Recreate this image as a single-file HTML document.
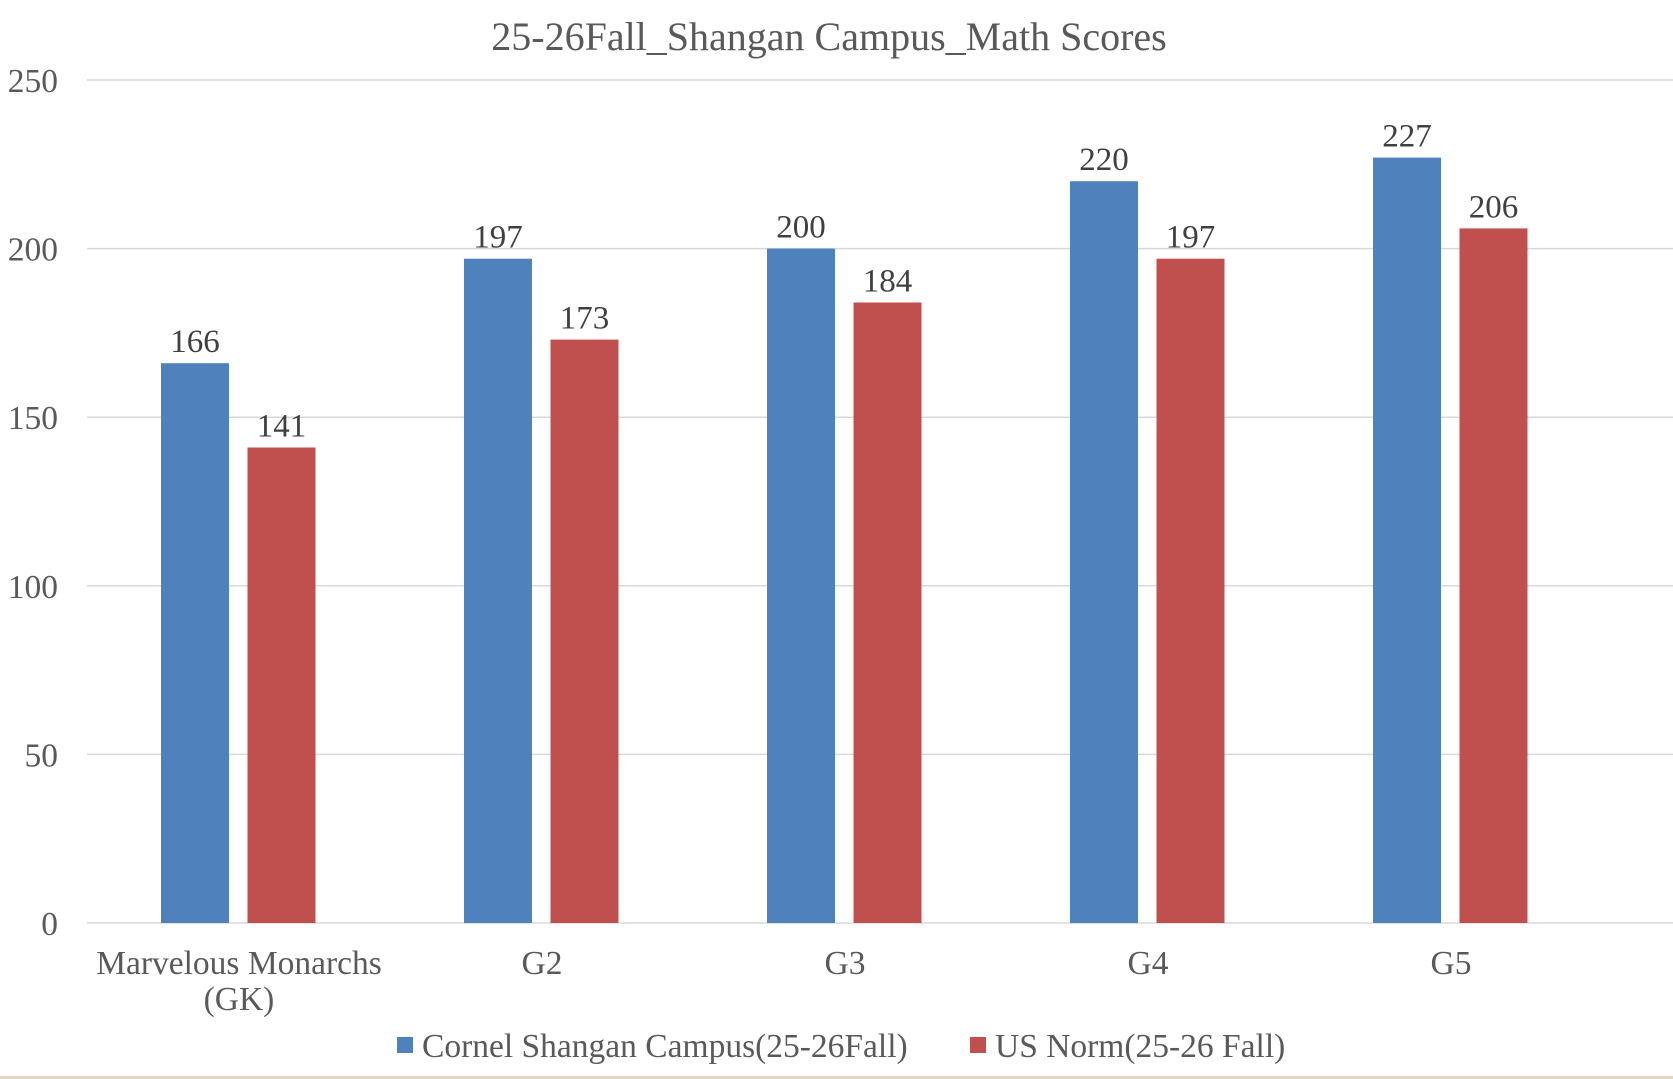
<!DOCTYPE html>
<html><head><meta charset="utf-8"><style>
html,body{margin:0;padding:0;background:#fff;}
svg{display:block;font-family:"Liberation Serif",serif;}
</style></head><body>
<svg width="1673" height="1079" viewBox="0 0 1673 1079" xmlns="http://www.w3.org/2000/svg">
<rect width="1673" height="1079" fill="#fff"/>
<text x="829" y="50" font-size="40" fill="#595959" text-anchor="middle">25-26Fall_Shangan Campus_Math Scores</text>
<g stroke="#d9d9d9" stroke-width="1.5">
<line x1="87" x2="1673" y1="80" y2="80"/>
<line x1="87" x2="1673" y1="248.6" y2="248.6"/>
<line x1="87" x2="1673" y1="417.2" y2="417.2"/>
<line x1="87" x2="1673" y1="585.8" y2="585.8"/>
<line x1="87" x2="1673" y1="754.4" y2="754.4"/>
<line x1="87" x2="1673" y1="923" y2="923"/>
</g>
<g font-size="33.5" fill="#595959" text-anchor="end">
<text x="58" y="92">250</text>
<text x="58" y="260.6">200</text>
<text x="58" y="429.2">150</text>
<text x="58" y="597.8">100</text>
<text x="58" y="766.4">50</text>
<text x="58" y="935">0</text>
</g>
<g fill="#4f81bd">
<rect x="161" y="363.2" width="68" height="559.8"/>
<rect x="464" y="258.7" width="68" height="664.3"/>
<rect x="767" y="248.6" width="68" height="674.4"/>
<rect x="1070" y="181.2" width="68" height="741.8"/>
<rect x="1373" y="157.6" width="68" height="765.4"/>
</g>
<g fill="#c0504d">
<rect x="247.5" y="447.5" width="68" height="475.5"/>
<rect x="550.5" y="339.6" width="68" height="583.4"/>
<rect x="853.5" y="302.5" width="68" height="620.5"/>
<rect x="1156.5" y="258.7" width="68" height="664.3"/>
<rect x="1459.5" y="228.4" width="68" height="694.6"/>
</g>
<g font-size="33" fill="#404040" text-anchor="middle">
<text x="195" y="352">166</text>
<text x="281.5" y="436.5">141</text>
<text x="498" y="247.7">197</text>
<text x="584.5" y="328.6">173</text>
<text x="801" y="237.6">200</text>
<text x="887.5" y="291.5">184</text>
<text x="1104" y="170.2">220</text>
<text x="1190.5" y="247.7">197</text>
<text x="1407" y="146.6">227</text>
<text x="1493.5" y="217.4">206</text>
</g>
<g font-size="33.5" fill="#595959" text-anchor="middle">
<text x="239" y="974">Marvelous Monarchs</text>
<text x="239" y="1010">(GK)</text>
<text x="542" y="974">G2</text>
<text x="845" y="974">G3</text>
<text x="1148" y="974">G4</text>
<text x="1451" y="974">G5</text>
</g>
<rect x="397" y="1037" width="16" height="16" fill="#4f81bd"/>
<text x="422" y="1057" font-size="33.5" fill="#595959">Cornel Shangan Campus(25-26Fall)</text>
<rect x="970" y="1037" width="16" height="16" fill="#c0504d"/>
<text x="995" y="1057" font-size="33.5" fill="#595959">US Norm(25-26 Fall)</text>
<rect x="0" y="1076" width="1673" height="3" fill="#e3d6c3"/>
</svg>
</body></html>
